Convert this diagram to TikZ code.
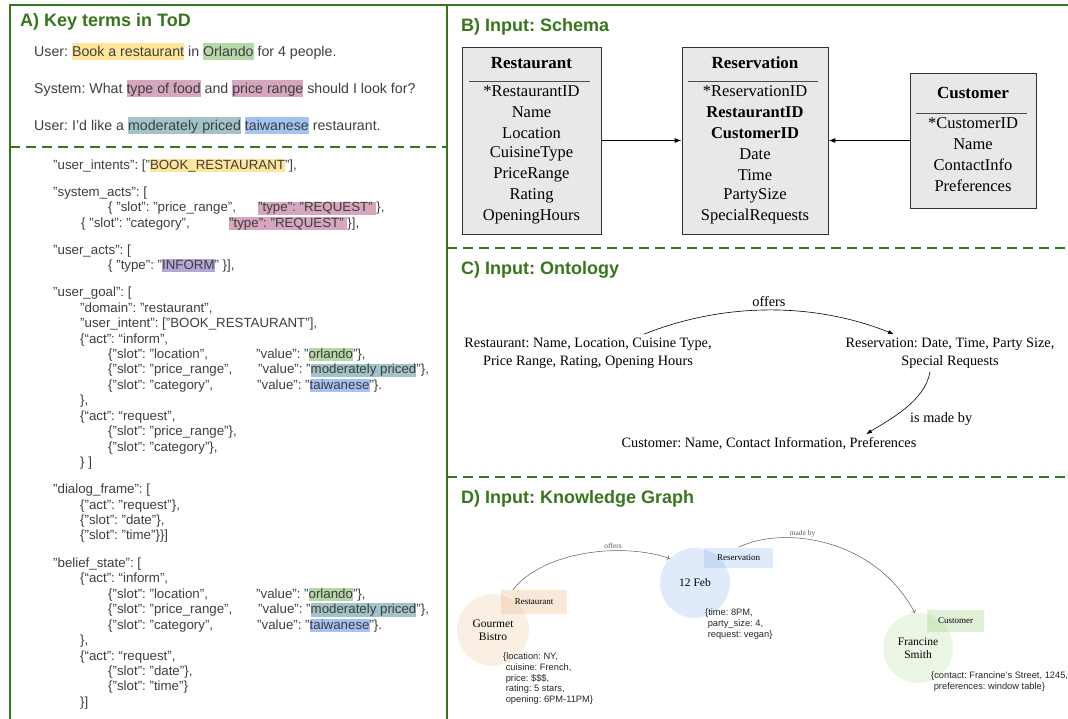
\documentclass[tikz,border=0pt]{standalone}
\usepackage{fontspec}
\setmainfont{Liberation Serif}
\setsansfont{Liberation Sans}
\usetikzlibrary{arrows.meta,positioning}

\definecolor{framegreen}{RGB}{56,118,29}
\definecolor{txtgray}{RGB}{62,62,62}
\definecolor{boxgray}{RGB}{232,232,232}
\definecolor{hlyellow}{HTML}{FFE599}
\definecolor{hlgreen}{HTML}{B6D7A8}
\definecolor{hlpink}{HTML}{D5A6BD}
\definecolor{hlteal}{HTML}{A2C4C9}
\definecolor{hlblue}{HTML}{A4C2F4}
\definecolor{hlpurple}{HTML}{B4A7D6}
\definecolor{kgpeach}{RGB}{232,180,128}
\definecolor{kgblue}{RGB}{110,160,232}
\definecolor{kggreen}{RGB}{150,205,120}
\definecolor{edgegray}{RGB}{90,90,90}

% highlight marker, height set per text block
\newcommand{\hlht}{1.2em}
\newcommand{\hldp}{0.2em}
\newcommand{\hlt}[2]{\smash{\setlength{\fboxsep}{0pt}\colorbox{#1}{\rule[-\hldp]{0pt}{\hlht}#2}}}

\begin{document}
\frenchspacing
\begin{tikzpicture}[x=1pt, y=-1pt,
  frame/.style={framegreen, line width=2.2pt},
  sepline/.style={framegreen, line width=2.2pt, dash pattern=on 10pt off 6pt},
  paneltitle/.style={font=\sffamily\bfseries\fontsize{18}{21}\selectfont, text=framegreen, anchor=base west, inner sep=0pt},
  dlg/.style={font=\sffamily\fontsize{14.2}{17}\selectfont, text=txtgray, anchor=base west, inner sep=0pt},
  json/.style={font=\sffamily\fontsize{13.3}{15.45}\selectfont\def\hlht{0.98em}\def\hldp{0.2em}, text=txtgray, anchor=base west, inner sep=0pt},
  schbox/.style={draw=black!80, fill=boxgray, line width=0.8pt, inner sep=0pt},
  schhead/.style={font=\bfseries\fontsize{17}{20}\selectfont},
  schrow/.style={font=\fontsize{16.5}{20}\selectfont},
  schrule/.style={black!70, line width=0.6pt},
  schlink/.style={-{Latex[length=7pt,width=5pt]}, line width=1.1pt},
  ont/.style={font=\fontsize{14.3}{18}\selectfont, align=center},
  ontlink/.style={-{Latex[length=6pt,width=4pt]}, line width=0.6pt},
  kgnode/.style={circle, inner sep=0pt, align=center, text opacity=1, font=\fontsize{11.5}{13.5}\selectfont},
  kgtag/.style={inner sep=0pt, text opacity=1, font=\fontsize{9}{11}\selectfont},
  kgattr/.style={font=\sffamily\fontsize{9.3}{10.75}\selectfont, text=black!85, anchor=base west, inner sep=0pt},
  kglink/.style={->, edgegray, line width=0.5pt},
  kglabel/.style={font=\fontsize{7.5}{9}\selectfont, inner sep=1.5pt}]
  \useasboundingbox (0,0) rectangle (1068,719);

  % Panel frames
  \draw[frame] (10,719) -- (10,5) -- (1068,5);
  \draw[frame] (447,5) -- (447,719);
  \draw[sepline] (10,147) -- (447,147);
  \draw[sepline] (447,248) -- (1068,248);
  \draw[sepline] (447,477) -- (1068,477);

  % A) key terms
  \node[paneltitle] (titleA) at (20,27) {A) Key terms in ToD};
  \node[dlg] (utt1) at (34,57) {User: \hlt{hlyellow}{Book a restaurant} in \hlt{hlgreen}{Orlando} for 4 people.};
  \node[dlg] (utt2) at (34,94) {System: What \hlt{hlpink}{type of food} and \hlt{hlpink}{price range} should I look for?};
  \node[dlg] (utt3) at (34,131) {User: I’d like a \hlt{hlteal}{moderately priced} \hlt{hlblue}{taiwanese} restaurant.};

  \node[json] (jsonblk) at (53,169.5) {\begin{tabular}[t]{@{}l@{}}
"user\_intents": ["\hlt{hlyellow}{BOOK\_RESTAURANT}"],\\[11.5pt]
"system\_acts": [\\
\hspace*{55pt}\makebox[150pt][l]{\{ "slot": "price\_range",}\hlt{hlpink}{"type": "REQUEST" }\},\\
\hspace*{28pt}\makebox[148pt][l]{\{ "slot": "category",}\hlt{hlpink}{"type": "REQUEST" }\}],\\[11.5pt]
"user\_acts": [\\
\hspace*{55pt}\{ "type": "\hlt{hlpurple}{INFORM}" \}],\\[11.5pt]
"user\_goal": [\\
\hspace*{27pt}"domain": "restaurant",\\
\hspace*{27pt}"user\_intent": ["BOOK\_RESTAURANT"],\\
\hspace*{27pt}\{“act”: “inform”,\\
\hspace*{55pt}\makebox[148pt][l]{\{"slot": "location",}"value": "\hlt{hlgreen}{orlando}"\},\\
\hspace*{55pt}\makebox[150pt][l]{\{"slot": "price\_range",}"value": "\hlt{hlteal}{moderately priced}"\},\\
\hspace*{55pt}\makebox[149pt][l]{\{"slot": "category",}"value": "\hlt{hlblue}{taiwanese}"\}.\\
\hspace*{27pt}\},\\
\hspace*{27pt}\{“act”: “request”,\\
\hspace*{55pt}\{"slot": "price\_range"\},\\
\hspace*{55pt}\{"slot": "category"\},\\
\hspace*{27pt}\} ]\\[11.5pt]
"dialog\_frame": [\\
\hspace*{27pt}\{"act": "request"\},\\
\hspace*{27pt}\{"slot": "date"\},\\
\hspace*{27pt}\{"slot": "time"\}\}]\\[12pt]
"belief\_state": [\\
\hspace*{27pt}\{“act”: “inform”,\\
\hspace*{55pt}\makebox[148pt][l]{\{"slot": "location",}"value": "\hlt{hlgreen}{orlando}"\},\\
\hspace*{55pt}\makebox[150pt][l]{\{"slot": "price\_range",}"value": "\hlt{hlteal}{moderately priced}"\},\\
\hspace*{55pt}\makebox[149pt][l]{\{"slot": "category",}"value": "\hlt{hlblue}{taiwanese}"\}.\\
\hspace*{27pt}\},\\
\hspace*{27pt}\{“act”: “request”,\\
\hspace*{55pt}\{"slot": "date"\},\\
\hspace*{55pt}\{"slot": "time"\}\\
\hspace*{27pt}\}]
\end{tabular}};

  % B) schema
  \node[paneltitle] (titleB) at (461,32) {B) Input: Schema};
  \node[schbox, minimum width=139pt, minimum height=187pt] (restbox) at (531.5,140.5) {};
  \node[schbox, minimum width=146pt, minimum height=187pt] (resvbox) at (755,140.5) {};
  \node[schbox, minimum width=126pt, minimum height=135pt] (custbox) at (973,140.5) {};
  \node[schhead] (resthead) at (531.5,63) {Restaurant};
  \node[schhead] (resvhead) at (755,63) {Reservation};
  \node[schhead] (custhead) at (973,93) {Customer};
  \draw[schrule] (469,81) -- (590,81);
  \draw[schrule] (688,81) -- (818,81);
  \draw[schrule] (916,113) -- (1027,113);
  \foreach \f [count=\i] in {*RestaurantID, Name, Location, CuisineType, PriceRange, Rating, OpeningHours}
    \node[schrow] (rest-\i) at (531.5,70+21*\i) {\f};
  \foreach \f [count=\i] in {*ReservationID, \textbf{RestaurantID}, \textbf{CustomerID}, Date, Time, PartySize, SpecialRequests}
    \node[schrow] (resv-\i) at (755,70+21*\i) {\f};
  \foreach \f [count=\i] in {*CustomerID, Name, ContactInfo, Preferences}
    \node[schrow] (cust-\i) at (973,102+21*\i) {\f};
  \draw[schlink] (restbox.east) -- (resvbox.west);
  \draw[schlink] (custbox.west) -- (resvbox.east);

  % C) ontology
  \node[paneltitle] (titleC) at (461,275) {C) Input: Ontology};
  \node[ont] (ontrest) at (588,353) {Restaurant: Name, Location, Cuisine Type,\\Price Range, Rating, Opening Hours};
  \node[ont] (ontresv) at (950,353) {Reservation: Date, Time, Party Size,\\Special Requests};
  \node[ont] (ontcust) at (769,444) {Customer: Name, Contact Information, Preferences};
  \draw[ontlink] ([xshift=56pt]ontrest.north) .. controls +(80,-32) and +(-80,-32) ..
    node[above, font=\fontsize{14.3}{18}\selectfont] (lblofferC) {offers} ([xshift=-56pt]ontresv.north);
  \draw[ontlink] ([xshift=-20pt]ontresv.south) .. controls +(-5,30) and +(22,-14) ..
    node[pos=0.6, anchor=west, xshift=10pt, yshift=-4pt, font=\fontsize{14.3}{18}\selectfont] (lblmadeC) {is made by} ([xshift=97pt]ontcust.north);

  % D) knowledge graph
  \node[paneltitle] (titleD) at (461,503) {D) Input: Knowledge Graph};
  \node[kgnode, minimum size=72pt, fill=kgpeach, fill opacity=0.22] (gourmet) at (493,630) {Gourmet\\Bistro};
  \node[kgtag, minimum width=66pt, minimum height=24pt, fill=kgpeach, fill opacity=0.3] (restlbl) at (534,602) {Restaurant};
  \node[kgnode, minimum size=70pt, fill=kgblue, fill opacity=0.22] (feb) at (695,583) {12 Feb};
  \node[kgtag, minimum width=69pt, minimum height=20pt, fill=kgblue, fill opacity=0.22] (reslbl) at (738.5,557.5) {Reservation};
  \node[kgnode, minimum size=70pt, fill=kggreen, fill opacity=0.2] (francine) at (918,648) {Francine\\Smith};
  \node[kgtag, minimum width=57pt, minimum height=22pt, fill=kggreen, fill opacity=0.3] (custlbl) at (955.5,621) {Customer};

  \node[kgattr] (gourmetattr) at (503,659.5) {\begin{tabular}[t]{@{}l@{}}
\{location: NY,\\
\hspace*{2.6pt}cuisine: French,\\
\hspace*{2.6pt}price: \$\$\$,\\
\hspace*{2.6pt}rating: 5 stars,\\
\hspace*{2.6pt}opening: 6PM-11PM\}
\end{tabular}};
  \node[kgattr] (febattr) at (705,615.5) {\begin{tabular}[t]{@{}l@{}}
\{time: 8PM,\\
\hspace*{2.6pt}party\_size: 4,\\
\hspace*{2.6pt}request: vegan\}
\end{tabular}};
  \node[kgattr] (francattr) at (931,678.5) {\begin{tabular}[t]{@{}l@{}}
\{contact: Francine's Street, 1245,\\
\hspace*{2.6pt}preferences: window table\}
\end{tabular}};

  \draw[kglink] ([xshift=12pt]restlbl.north west) .. controls +(32,-40) and +(-45,-16) ..
    node[kglabel, pos=0.65, above] (lblofferD) {offers} (feb.136);
  \draw[kglink] (reslbl.north) .. controls +(45,-22) and +(-40,-75) ..
    node[kglabel, pos=0.37, above] (lblmadeD) {made by} (francine.95);
\end{tikzpicture}
\end{document}
